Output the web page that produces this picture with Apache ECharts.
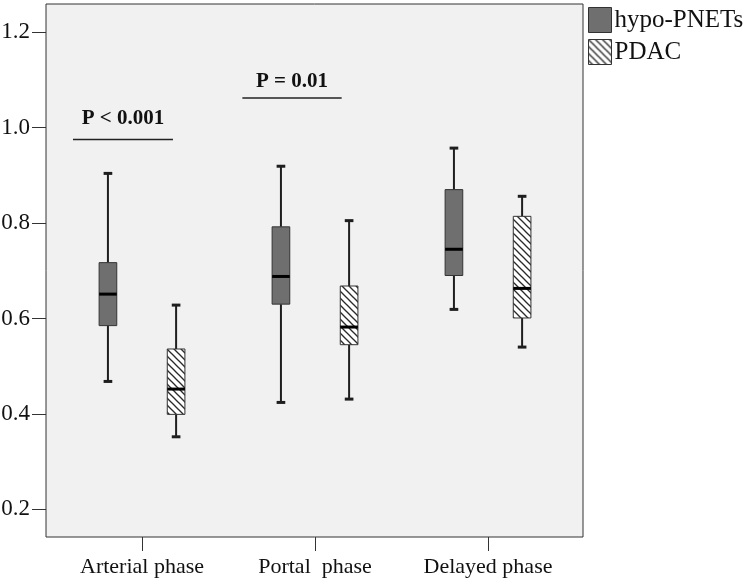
<!DOCTYPE html>
<html>
<head>
<meta charset="utf-8">
<script src="https://cdn.jsdelivr.net/npm/echarts@6/dist/echarts.min.js"></script>
<style>html,body{margin:0;padding:0;background:#fff}#c{width:750px;height:582px}</style>
</head>
<body>
<div id="c"></div>
<script>
// ---- data ----
const categories = ['Arterial phase', 'Portal  phase', 'Delayed phase'];
const seriesNames = ['hypo-PNETs', 'PDAC'];
const yTicks = [0.2, 0.4, 0.6, 0.8, 1.0, 1.2];

const pnetMin = [0.468, 0.424, 0.619];
const pnetQ1  = [0.585, 0.630, 0.690];
const pnetMed = [0.651, 0.688, 0.745];
const pnetQ3  = [0.717, 0.792, 0.870];
const pnetMax = [0.904, 0.919, 0.957];

const pdacMin = [0.352, 0.431, 0.540];
const pdacQ1  = [0.399, 0.545, 0.601];
const pdacMed = [0.452, 0.582, 0.663];
const pdacQ3  = [0.536, 0.668, 0.814];
const pdacMax = [0.628, 0.805, 0.856];

const annotLabels = ['P < 0.001', 'P = 0.01'];
const annotFrom   = [0.601, 1.580];
const annotTo     = [1.179, 2.154];
const annotLineY  = [0.975, 1.062];
const annotTextY  = [1.018, 1.096];

// ---- build ----
const FONT = "'Liberation Serif', 'Times New Roman', serif";
const positions = categories.map((_, i) => i + 1);

function hatch() {
  const cv = document.createElement('canvas');
  const s = 7;
  cv.width = s; cv.height = s;
  const ctx = cv.getContext('2d');
  ctx.fillStyle = '#ffffff';
  ctx.fillRect(0, 0, s, s);
  ctx.strokeStyle = '#2a2a2a';
  ctx.lineWidth = 1.3;
  for (let k = -1; k <= 1; k++) {
    ctx.beginPath();
    ctx.moveTo(k * s - 1, -1);
    ctx.lineTo(k * s + s + 1, s + 1);
    ctx.stroke();
  }
  return { image: cv, repeat: 'repeat' };
}
const pnetFill = '#6f6f6f';
const pdacFill = hatch();

function boxData(mn, q1, md, q3, mx) {
  return positions.map((p, i) => [p, mn[i], q1[i], md[i], q3[i], mx[i]]);
}

function boxRender(offsetFrac, fill) {
  return function (params, api) {
    const x = api.value(0);
    const unit = api.size([1, 0])[0];
    const cx = api.coord([x, 0])[0] + offsetFrac * unit;
    const w = unit * 0.102;
    const cap = unit * 0.05;
    const y = k => api.coord([x, api.value(k)])[1];
    const yMin = y(1), yQ1 = y(2), yMed = y(3), yQ3 = y(4), yMax = y(5);
    const ls = { stroke: '#1e1e1e', lineWidth: 2 };
    return {
      type: 'group',
      children: [
        { type: 'line', shape: { x1: cx, y1: yMax, x2: cx, y2: yQ3 }, style: ls },
        { type: 'line', shape: { x1: cx, y1: yQ1, x2: cx, y2: yMin }, style: ls },
        { type: 'line', shape: { x1: cx - cap / 2, y1: yMax, x2: cx + cap / 2, y2: yMax }, style: { stroke: '#1e1e1e', lineWidth: 3 } },
        { type: 'line', shape: { x1: cx - cap / 2, y1: yMin, x2: cx + cap / 2, y2: yMin }, style: { stroke: '#1e1e1e', lineWidth: 3 } },
        { type: 'rect', shape: { x: cx - w / 2, y: yQ3, width: w, height: yQ1 - yQ3 }, style: { fill: fill, stroke: '#333', lineWidth: 1 } },
        { type: 'line', shape: { x1: cx - w / 2, y1: yMed, x2: cx + w / 2, y2: yMed }, style: { stroke: '#000', lineWidth: 3 } }
      ]
    };
  };
}

const annotData = annotLabels.map((t, i) => [annotFrom[i], annotTo[i], annotLineY[i], annotTextY[i], t]);

const chart = echarts.init(document.getElementById('c'), null, { renderer: 'canvas' });
chart.setOption({
  backgroundColor: '#ffffff',
  animation: false,
  grid: {
    left: 46, right: 167, top: 4, bottom: 45,
    containLabel: false, outerBoundsMode: 'none',
    show: true, backgroundColor: '#f1f1f1', borderColor: '#333', borderWidth: 1
  },
  legend: {
    orient: 'vertical', left: 588, top: 7, padding: 0,
    itemWidth: 23, itemHeight: 25, itemGap: 6,
    icon: 'rect',
    textStyle: { fontFamily: FONT, fontSize: 25, color: '#111', padding: [0, 0, 0, -2] },
    data: [
      { name: seriesNames[0], itemStyle: { color: pnetFill, borderColor: '#333', borderWidth: 1 } },
      { name: seriesNames[1], itemStyle: { color: pdacFill, borderColor: '#333', borderWidth: 1 } }
    ]
  },
  xAxis: {
    type: 'value', min: 0.445, max: 3.549,
    splitLine: { show: false },
    axisLine: { show: false },
    axisTick: { show: true, length: 14, customValues: positions, lineStyle: { color: '#333', width: 1 } },
    axisLabel: {
      customValues: positions, margin: 19,
      fontFamily: FONT, fontSize: 22, color: '#111',
      formatter: v => categories[Math.round(v) - 1] || ''
    }
  },
  yAxis: {
    type: 'value', min: 0.142, max: 1.259,
    splitLine: { show: false },
    axisLine: { show: false },
    axisTick: { show: true, length: 14, customValues: yTicks, lineStyle: { color: '#333', width: 1 } },
    axisLabel: {
      customValues: yTicks, margin: 16,
      fontFamily: FONT, fontSize: 23, color: '#111',
      formatter: v => v.toFixed(1)
    }
  },
  series: [
    {
      name: seriesNames[0], type: 'custom',
      itemStyle: { color: pnetFill },
      encode: { x: 0, y: [1, 2, 3, 4, 5] },
      renderItem: boxRender(-0.197, pnetFill),
      data: boxData(pnetMin, pnetQ1, pnetMed, pnetQ3, pnetMax)
    },
    {
      name: seriesNames[1], type: 'custom',
      itemStyle: { color: pdacFill },
      encode: { x: 0, y: [1, 2, 3, 4, 5] },
      renderItem: boxRender(0.197, pdacFill),
      data: boxData(pdacMin, pdacQ1, pdacMed, pdacQ3, pdacMax)
    },
    {
      name: 'annot', type: 'custom',
      encode: { x: [0, 1], y: [2, 3] },
      renderItem: function (params, api) {
        const a = api.coord([api.value(0), api.value(2)]);
        const b = api.coord([api.value(1), api.value(2)]);
        const t = api.coord([(api.value(0) + api.value(1)) / 2, api.value(3)]);
        return {
          type: 'group',
          children: [
            { type: 'line', shape: { x1: a[0], y1: a[1], x2: b[0], y2: b[1] }, style: { stroke: '#222', lineWidth: 1.3 } },
            { type: 'text', x: t[0], y: t[1], style: {
                text: annotData[params.dataIndex][4], fontFamily: FONT, fontSize: 21, fontWeight: 'bold',
                fill: '#111', align: 'center', verticalAlign: 'middle' } }
          ]
        };
      },
      data: annotData
    }
  ]
});
</script>
</body>
</html>
